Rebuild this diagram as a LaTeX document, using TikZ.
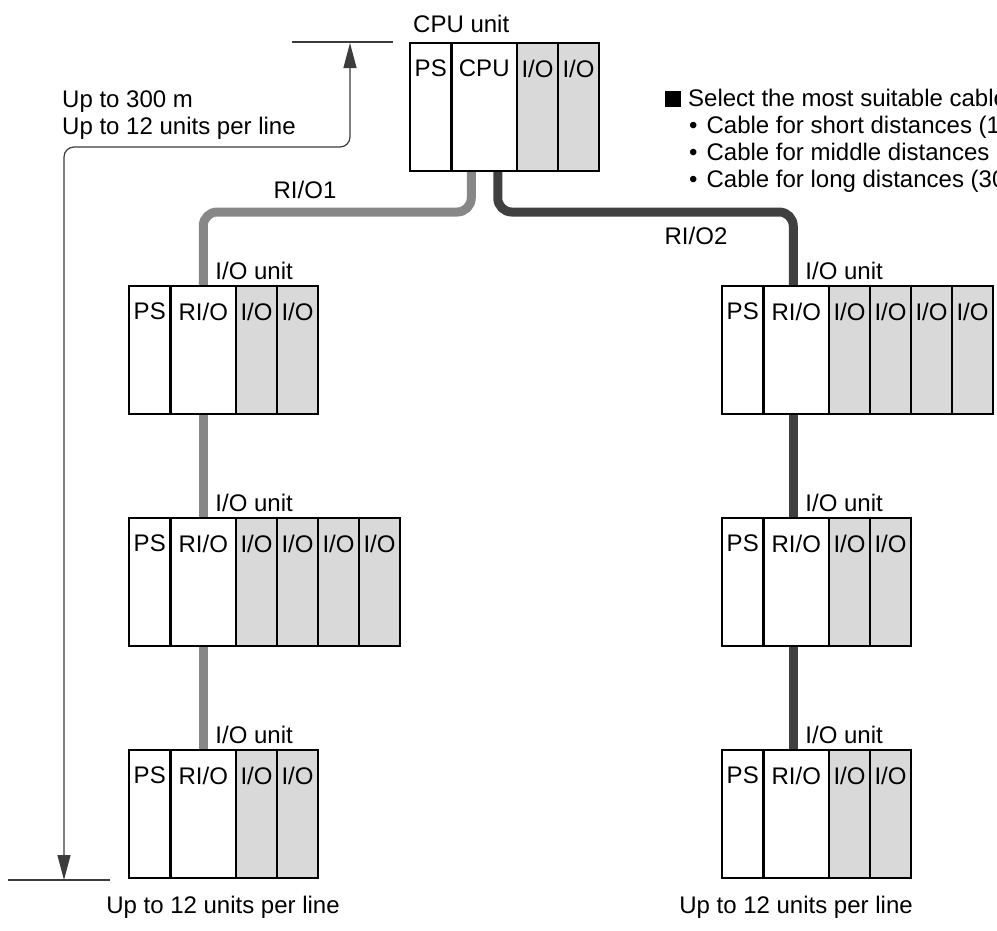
\documentclass[tikz,border=0pt]{standalone}
\usepackage{fontspec}
\setmainfont{Liberation Sans}
\usetikzlibrary{arrows.meta, positioning, backgrounds}

\definecolor{iogray}{HTML}{D9D9D9}
\definecolor{cableA}{HTML}{878787}
\definecolor{cableB}{HTML}{404040}
\definecolor{ink}{HTML}{1A1A1A}

\begin{document}
\begin{tikzpicture}[
  x=1pt, y=-1pt,
  font=\fontsize{24}{27}\selectfont,
  node distance=0pt,
  slot/.style={draw=black, line width=2.2pt, outer sep=0pt, inner sep=0pt, minimum height=128pt, label={[anchor=north, inner sep=0pt, yshift=-17pt]north:#1}},
  psslot/.style={slot=PS, minimum width=41.5pt},
  rioslot/.style={slot=#1, minimum width=65.5pt},
  ioslot/.style={slot=I/O, fill=iogray, minimum width=41pt},
  unitlbl/.style={anchor=south west, inner sep=0pt, xshift=12pt, yshift=6pt},
  cable1/.style={line width=9pt, draw=cableA, rounded corners=14pt},
  cable2/.style={line width=9pt, draw=cableB, rounded corners=14pt},
  dim/.style={line width=1.2pt, draw=ink!85, rounded corners=10pt},
  dimarrow/.style={dim, {Triangle[length=25pt, width=13pt]}-{Triangle[length=25pt, width=13pt]}}
]
\useasboundingbox (0,0) rectangle (997,930);

% CPU unit
\node[psslot, anchor=north west] (cpuPS) at (410,43) {};
\node[rioslot=CPU, right=of cpuPS] (cpuCPU) {};
\node[ioslot, right=of cpuCPU] (cpuIO1) {};
\node[ioslot, right=of cpuIO1] (cpuIO2) {};
\node[anchor=south west, inner sep=0pt] (cpulbl) at ([xshift=3pt, yshift=10pt]cpuPS.north west) {CPU unit};

% I/O units, line RI/O1
\node[psslot, anchor=north west] (l1ps) at (129,286) {};
\node[rioslot=RI/O, right=of l1ps] (l1rio) {};
\node[ioslot, right=of l1rio] (l1io1) {};
\node[ioslot, right=of l1io1] (l1io2) {};

\node[psslot, anchor=north west] (l2ps) at (129,518) {};
\node[rioslot=RI/O, right=of l2ps] (l2rio) {};
\node[ioslot, right=of l2rio] (l2io1) {};
\node[ioslot, right=of l2io1] (l2io2) {};
\node[ioslot, right=of l2io2] (l2io3) {};
\node[ioslot, right=of l2io3] (l2io4) {};

\node[psslot, anchor=north west] (l3ps) at (129,750) {};
\node[rioslot=RI/O, right=of l3ps] (l3rio) {};
\node[ioslot, right=of l3rio] (l3io1) {};
\node[ioslot, right=of l3io1] (l3io2) {};

% I/O units, line RI/O2
\node[psslot, anchor=north west] (r1ps) at (722,286) {};
\node[rioslot=RI/O, right=of r1ps] (r1rio) {};
\node[ioslot, right=of r1rio] (r1io1) {};
\node[ioslot, right=of r1io1] (r1io2) {};
\node[ioslot, right=of r1io2] (r1io3) {};
\node[ioslot, right=of r1io3] (r1io4) {};

\node[psslot, anchor=north west] (r2ps) at (722,518) {};
\node[rioslot=RI/O, right=of r2ps] (r2rio) {};
\node[ioslot, right=of r2rio] (r2io1) {};
\node[ioslot, right=of r2io1] (r2io2) {};

\node[psslot, anchor=north west] (r3ps) at (722,750) {};
\node[rioslot=RI/O, right=of r3ps] (r3rio) {};
\node[ioslot, right=of r3rio] (r3io1) {};
\node[ioslot, right=of r3io1] (r3io2) {};

% cable entry points
\coordinate (bus) at (0,212);
\coordinate (r1in) at ([xshift=-3pt]r1rio.north);
\coordinate (r1out) at ([xshift=-3pt]r1rio.south);
\coordinate (r2in) at ([xshift=-3pt]r2rio.north);
\coordinate (r2out) at ([xshift=-3pt]r2rio.south);
\coordinate (r3in) at ([xshift=-3pt]r3rio.north);

% Cables
\begin{scope}[on background layer]
\draw[cable1] ([xshift=-13pt]cpuCPU.south) |- (l1rio.north |- bus) -- (l1rio.north);
\draw[cable1] (l1rio.south) -- (l2rio.north);
\draw[cable1] (l2rio.south) -- (l3rio.north);
\draw[cable2] ([xshift=13.5pt]cpuCPU.south) |- (r1in |- bus) -- (r1in);
\draw[cable2] (r1out) -- (r2in);
\draw[cable2] (r2out) -- (r3in);
\end{scope}

\node (rio1lbl) at (305,190) {RI/O1};
\node (rio2lbl) at (696,236) {RI/O2};

\node[unitlbl] (l1lbl) at (l1rio.north) {I/O unit};
\node[unitlbl] (l2lbl) at (l2rio.north) {I/O unit};
\node[unitlbl] (l3lbl) at (l3rio.north) {I/O unit};
\node[unitlbl] (r1lbl) at (r1in) {I/O unit};
\node[unitlbl] (r2lbl) at (r2in) {I/O unit};
\node[unitlbl] (r3lbl) at (r3in) {I/O unit};

% Distance
\coordinate (topA) at (292,42);
\coordinate (topB) at (393,42);
\coordinate (botA) at (8,880);
\coordinate (botB) at (110,880);
\coordinate (tipT) at (350,43);
\coordinate (tipB) at (64,880);
\coordinate (bend) at (0,147);
\draw[dim] (topA) -- (topB);
\draw[dim] (botA) -- (botB);
\draw[dimarrow] (tipT) -- (tipT |- bend) -- (tipB |- bend) -- (tipB);
\node[align=left, anchor=north west, inner sep=0pt] (span) at (62,91) {Up to 300 m\\Up to 12 units per line};

% Cable choice
\node[align=left, anchor=north west, inner sep=0pt] (choice) at (665,89) {\rule{16pt}{16pt}\hspace{7pt}Select the most suitable cable\\
  \hspace*{24pt}•\hspace{9pt}Cable for short distances (1\\
  \hspace*{24pt}•\hspace{9pt}Cable for middle distances\\
  \hspace*{24pt}•\hspace{9pt}Cable for long distances (30};

\node (capL) at (223,907) {Up to 12 units per line};
\node (capR) at (796,907) {Up to 12 units per line};

\end{tikzpicture}
\end{document}
